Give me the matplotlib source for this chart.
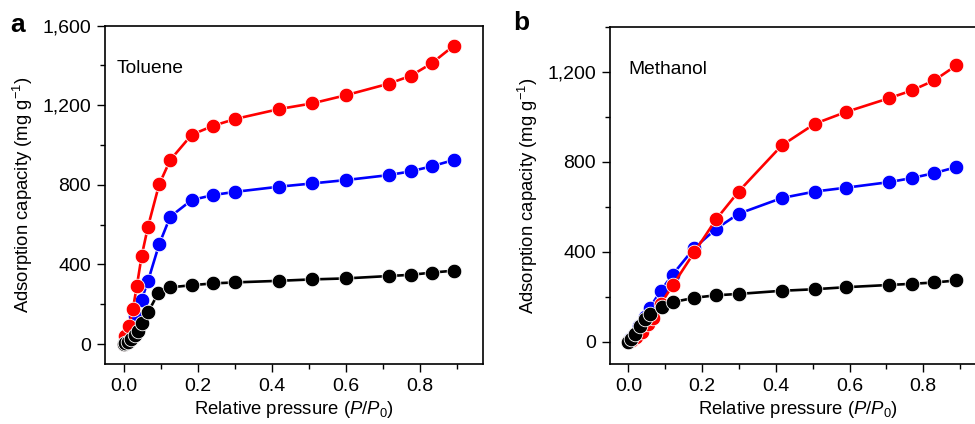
import matplotlib
matplotlib.use("Agg")
import matplotlib.pyplot as plt
from matplotlib.ticker import MultipleLocator, FuncFormatter

plt.rcParams['font.family'] = ['Liberation Sans', 'DejaVu Sans']
plt.rcParams['mathtext.fontset'] = 'custom'
plt.rcParams['mathtext.rm'] = 'Liberation Sans'
plt.rcParams['mathtext.it'] = 'Liberation Sans:italic'

# panel a - toluene
tol_red_x = [0, 0.005, 0.015, 0.025, 0.036, 0.049, 0.066, 0.096, 0.126, 0.184, 0.242, 0.301, 0.42, 0.508, 0.599, 0.715, 0.775, 0.831, 0.891]
tol_red_y = [0, 40, 90, 174, 293, 444, 590, 802, 925, 1052, 1097, 1131, 1181, 1209, 1250, 1308, 1348, 1410, 1499]
tol_blue_x = [0, 0.005, 0.018, 0.03, 0.049, 0.066, 0.096, 0.126, 0.184, 0.242, 0.301, 0.42, 0.508, 0.599, 0.715, 0.775, 0.831, 0.891]
tol_blue_y = [0, 20, 85, 140, 224, 317, 501, 640, 724, 749, 765, 791, 807, 824, 849, 868, 893, 925]
tol_black_x = [0, 0.005, 0.012, 0.02, 0.03, 0.04, 0.049, 0.066, 0.094, 0.126, 0.184, 0.242, 0.301, 0.42, 0.508, 0.599, 0.715, 0.775, 0.831, 0.891]
tol_black_y = [0, 5, 12, 25, 45, 65, 104, 159, 258, 285, 296, 305, 310, 318, 325, 330, 342, 348, 359, 369]

# panel b - methanol
met_red_x = [0, 0.01, 0.02, 0.036, 0.054, 0.068, 0.088, 0.12, 0.179, 0.238, 0.299, 0.416, 0.506, 0.59, 0.708, 0.769, 0.83, 0.89]
met_red_y = [0, 8, 20, 41, 79, 105, 168, 250, 398, 544, 668, 873, 970, 1022, 1084, 1118, 1163, 1230]
met_blue_x = [0, 0.005, 0.015, 0.03, 0.045, 0.058, 0.088, 0.12, 0.179, 0.238, 0.299, 0.416, 0.506, 0.59, 0.708, 0.769, 0.83, 0.89]
met_blue_y = [0, 10, 30, 70, 110, 150, 227, 298, 417, 502, 569, 639, 668, 685, 710, 728, 750, 777]
met_black_x = [0, 0.008, 0.018, 0.032, 0.045, 0.059, 0.09, 0.12, 0.179, 0.238, 0.299, 0.416, 0.506, 0.59, 0.708, 0.769, 0.83, 0.89]
met_black_y = [0, 10, 34, 71, 101, 123, 156, 175, 195, 206, 212, 226, 233, 242, 252, 257, 263, 272]

fig = plt.figure(figsize=(9.75, 4.24), dpi=100)
ax1 = fig.add_axes([0.1077, 0.1415, 0.3877, 0.798])
ax2 = fig.add_axes([0.6256, 0.1415, 0.3856, 0.7945])


def draw(ax, series):
    for x, y, c in series:
        ax.plot(x, y, '-', color=c, lw=1.9, marker='o', ms=10.5,
                mfc=c, mec='white', mew=0.6)


def style(ax):
    ax.set_xlim(-0.05, 0.97)
    ax.xaxis.set_major_locator(MultipleLocator(0.2))
    ax.xaxis.set_minor_locator(MultipleLocator(0.1))
    ax.xaxis.set_major_formatter(FuncFormatter(lambda v, p: f"{v:.1f}"))
    ax.yaxis.set_major_locator(MultipleLocator(400))
    ax.yaxis.set_minor_locator(MultipleLocator(200))
    ax.yaxis.set_major_formatter(FuncFormatter(lambda v, p: f"{v:,.0f}"))
    ax.tick_params(which='major', direction='out', length=6, width=1, labelsize=14, pad=4)
    ax.tick_params(which='minor', direction='out', length=3.5, width=1)
    for s in ax.spines.values():
        s.set_linewidth(1.2)
    ax.set_xlabel(r"Relative pressure ($P$/$P_0$)", fontsize=13.3, labelpad=3)
    ax.set_ylabel(r"Adsorption capacity (mg g$^{-1}$)", fontsize=13.3, labelpad=5)


draw(ax1, [(tol_blue_x, tol_blue_y, 'blue'), (tol_red_x, tol_red_y, 'red'),
           (tol_black_x, tol_black_y, 'black')])
style(ax1)
ax1.set_ylim(-100, 1600)
ax1.text(0.032, 0.872, "Toluene", transform=ax1.transAxes, fontsize=13.8, va='center')

draw(ax2, [(met_blue_x, met_blue_y, 'blue'), (met_red_x, met_red_y, 'red'),
           (met_black_x, met_black_y, 'black')])
style(ax2)
ax2.set_ylim(-100, 1400)
ax2.text(0.049, 0.875, "Methanol", transform=ax2.transAxes, fontsize=13.8, va='center')

fig.text(0.011, 0.94, "a", fontsize=19, fontweight='bold', va='center')
fig.text(0.526, 0.945, "b", fontsize=19, fontweight='bold', va='center')

fig.savefig("out.png", dpi=100)
